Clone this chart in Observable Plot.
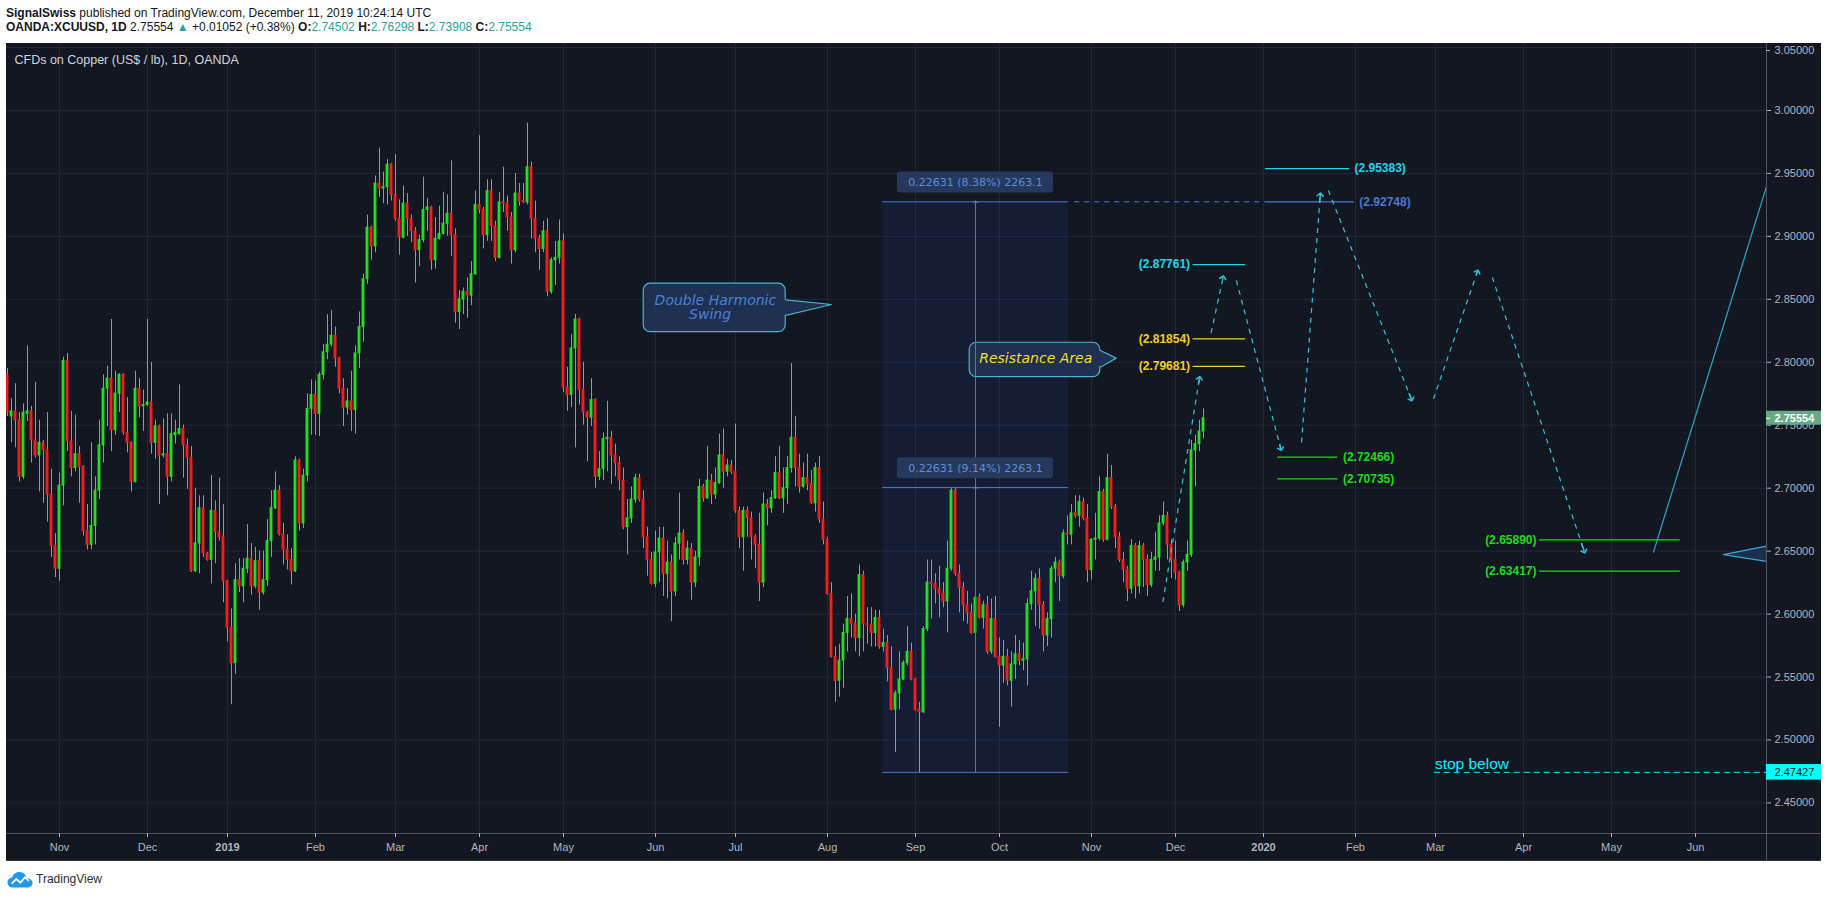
<!DOCTYPE html>
<html><head><meta charset="utf-8">
<script src="https://cdn.jsdelivr.net/npm/d3@7"></script>
<script src="https://cdn.jsdelivr.net/npm/@observablehq/plot@0.6"></script>
<style>
html,body{margin:0;padding:0;background:#fff;}
body{width:1828px;height:898px;overflow:hidden;position:relative;font-family:"Liberation Sans",Arial,sans-serif;}
#hdr{position:absolute;left:6px;top:6px;line-height:14px;color:#131722;white-space:nowrap;font-size:12px;}
#hdr .t{color:#26a69a;}
#chart{position:absolute;left:6px;top:43px;width:1815px;height:818px;overflow:hidden;}
#foot{position:absolute;left:7px;top:869px;height:20px;display:flex;align-items:center;gap:3px;font-size:12px;color:#2a2e39;}
</style></head><body>
<div id="hdr"><div id="l1"></div><div id="l2"></div></div>
<div id="chart"></div>
<div id="foot"><svg width="26" height="17" viewBox="0 0 28 18"><path d="M6 17.5C2.5 17.5 0.5 15 0.5 12C0.5 9 2.8 7 5.3 7C6.3 3.5 9.3 0.8 13.2 0.8C17.6 0.8 20.6 3.8 21.2 7.3C24.6 7.3 27.5 9.7 27.5 12.7C27.5 15.3 25.4 17.5 22.8 17.5Z" fill="#2196f3"/><path d="M5 13.5L10 8.5L14.5 12.5L19.5 6.5L23.5 10.5" stroke="#fff" stroke-width="2" fill="none"/></svg><span>TradingView</span></div>
<script>
// ---------- data ----------
const opens = [2.790,2.757,2.761,2.754,2.709,2.759,2.761,2.738,2.726,2.736,
2.730,2.695,2.654,2.636,2.702,2.801,2.737,2.716,2.727,2.717,
2.666,2.655,2.670,2.698,2.734,2.779,2.787,2.746,2.775,2.790,
2.744,2.736,2.705,2.779,2.765,2.766,2.768,2.736,2.749,2.726,
2.727,2.709,2.742,2.743,2.747,2.734,2.724,2.634,2.656,2.684,
2.648,2.643,2.682,2.665,2.661,2.626,2.589,2.561,2.627,2.622,
2.636,2.644,2.622,2.642,2.617,2.627,2.658,2.684,2.698,2.663,
2.651,2.643,2.634,2.722,2.672,2.710,2.763,2.774,2.759,2.790,
2.808,2.814,2.821,2.803,2.779,2.764,2.769,2.762,2.807,2.828,
2.866,2.907,2.892,2.942,2.938,2.939,2.957,2.933,2.914,2.899,
2.926,2.914,2.904,2.889,2.897,2.921,2.923,2.881,2.898,2.902,
2.910,2.918,2.901,2.840,2.850,2.856,2.853,2.870,2.925,2.921,
2.901,2.936,2.908,2.883,2.927,2.926,2.915,2.889,2.934,2.928,
2.927,2.955,2.914,2.898,2.890,2.904,2.856,2.881,2.883,2.896,
2.780,2.774,2.811,2.834,2.778,2.760,2.756,2.770,2.709,2.715,
2.739,2.740,2.726,2.720,2.706,2.669,2.676,2.691,2.708,2.691,
2.661,2.643,2.624,2.649,2.660,2.632,2.641,2.618,2.656,2.664,
2.643,2.652,2.625,2.645,2.701,2.692,2.706,2.695,2.704,2.726,
2.713,2.718,2.713,2.682,2.661,2.682,2.676,2.661,2.655,2.625,
2.687,2.684,2.692,2.712,2.692,2.700,2.716,2.740,2.716,2.701,
2.708,2.703,2.688,2.716,2.675,2.659,2.616,2.566,2.547,2.563,
2.585,2.596,2.592,2.581,2.631,2.592,2.591,2.585,2.597,2.574,
2.577,2.557,2.524,2.537,2.548,2.561,2.570,2.548,2.524,2.522,
2.588,2.625,2.624,2.620,2.616,2.610,2.636,2.698,2.632,2.621,
2.607,2.601,2.585,2.613,2.597,2.607,2.570,2.596,2.566,2.559,
2.566,2.547,2.560,2.568,2.563,2.564,2.608,2.618,2.628,2.607,
2.583,2.596,2.636,2.641,2.630,2.664,2.663,2.680,2.678,2.689,
2.676,2.635,2.659,2.660,2.697,2.659,2.708,2.685,2.661,2.643,
2.635,2.620,2.654,2.622,2.654,2.643,2.623,2.643,2.645,2.672,
2.678,2.655,2.643,2.633,2.607,2.641,2.647,2.730,2.735,2.74502];
const highs = [2.795,2.771,2.783,2.760,2.767,2.813,2.765,2.784,2.754,2.738,
2.760,2.715,2.664,2.712,2.804,2.807,2.761,2.758,2.733,2.718,
2.687,2.736,2.709,2.754,2.790,2.797,2.834,2.793,2.791,2.791,
2.772,2.737,2.793,2.787,2.778,2.834,2.800,2.754,2.750,2.755,
2.759,2.759,2.754,2.782,2.750,2.739,2.733,2.700,2.694,2.694,
2.649,2.710,2.690,2.708,2.687,2.627,2.604,2.640,2.644,2.644,
2.671,2.656,2.653,2.650,2.650,2.675,2.698,2.713,2.702,2.672,
2.663,2.652,2.725,2.723,2.715,2.775,2.786,2.785,2.792,2.814,
2.838,2.841,2.828,2.804,2.787,2.779,2.793,2.813,2.840,2.870,
2.917,2.908,2.948,2.970,2.951,2.961,2.958,2.965,2.929,2.940,
2.934,2.917,2.907,2.901,2.947,2.930,2.924,2.915,2.924,2.935,
2.933,2.960,2.906,2.857,2.859,2.867,2.880,2.936,2.980,2.923,
2.945,2.945,2.912,2.935,2.955,2.932,2.919,2.950,2.942,2.942,
2.990,2.959,2.928,2.901,2.912,2.914,2.883,2.896,2.913,2.902,
2.796,2.822,2.838,2.835,2.800,2.761,2.787,2.771,2.729,2.744,
2.769,2.745,2.735,2.725,2.716,2.691,2.701,2.711,2.711,2.698,
2.669,2.649,2.666,2.669,2.669,2.658,2.647,2.661,2.696,2.667,
2.658,2.656,2.650,2.707,2.703,2.733,2.711,2.716,2.743,2.747,
2.723,2.722,2.751,2.685,2.685,2.685,2.681,2.663,2.680,2.696,
2.691,2.698,2.725,2.733,2.716,2.725,2.799,2.757,2.727,2.720,
2.727,2.714,2.720,2.725,2.689,2.661,2.625,2.574,2.576,2.592,
2.614,2.616,2.600,2.639,2.634,2.605,2.605,2.603,2.603,2.588,
2.583,2.574,2.539,2.570,2.563,2.590,2.577,2.549,2.530,2.590,
2.643,2.643,2.632,2.638,2.625,2.658,2.700,2.700,2.639,2.625,
2.618,2.608,2.618,2.616,2.610,2.614,2.612,2.614,2.581,2.579,
2.572,2.570,2.583,2.579,2.577,2.612,2.634,2.632,2.636,2.610,
2.601,2.638,2.645,2.643,2.667,2.678,2.687,2.694,2.694,2.692,
2.687,2.660,2.680,2.709,2.699,2.727,2.718,2.687,2.665,2.649,
2.638,2.659,2.656,2.658,2.656,2.647,2.649,2.665,2.678,2.689,
2.681,2.659,2.658,2.634,2.643,2.658,2.738,2.742,2.754,2.76298];
const lows = [2.757,2.736,2.732,2.705,2.707,2.753,2.720,2.724,2.697,2.688,
2.673,2.645,2.629,2.626,2.686,2.729,2.709,2.713,2.688,2.662,
2.651,2.651,2.655,2.691,2.720,2.749,2.729,2.742,2.760,2.742,
2.728,2.697,2.704,2.756,2.745,2.765,2.727,2.723,2.687,2.724,
2.694,2.705,2.735,2.742,2.708,2.699,2.633,2.633,2.632,2.645,
2.642,2.624,2.640,2.658,2.609,2.578,2.528,2.552,2.617,2.609,
2.632,2.615,2.620,2.603,2.615,2.622,2.645,2.683,2.662,2.639,
2.635,2.623,2.633,2.666,2.668,2.705,2.742,2.742,2.741,2.786,
2.802,2.812,2.796,2.775,2.749,2.758,2.745,2.743,2.795,2.816,
2.862,2.881,2.887,2.931,2.926,2.925,2.928,2.912,2.885,2.898,
2.900,2.895,2.863,2.876,2.895,2.904,2.873,2.874,2.897,2.901,
2.900,2.884,2.831,2.826,2.838,2.835,2.845,2.869,2.918,2.890,
2.896,2.896,2.880,2.882,2.919,2.904,2.878,2.887,2.924,2.926,
2.925,2.898,2.887,2.873,2.887,2.852,2.854,2.861,2.878,2.776,
2.761,2.764,2.732,2.766,2.750,2.721,2.749,2.700,2.706,2.706,
2.713,2.703,2.709,2.698,2.667,2.647,2.672,2.688,2.689,2.652,
2.630,2.623,2.621,2.625,2.614,2.612,2.594,2.614,2.643,2.639,
2.639,2.611,2.621,2.638,2.689,2.691,2.687,2.691,2.703,2.700,
2.709,2.711,2.680,2.652,2.634,2.661,2.643,2.636,2.610,2.621,
2.670,2.680,2.691,2.691,2.680,2.687,2.712,2.701,2.696,2.700,
2.698,2.687,2.681,2.672,2.655,2.615,2.565,2.530,2.534,2.541,
2.570,2.581,2.570,2.566,2.570,2.576,2.574,2.574,2.572,2.570,
2.546,2.523,2.490,2.524,2.547,2.559,2.547,2.523,2.474,2.521,
2.586,2.596,2.608,2.597,2.605,2.585,2.634,2.630,2.601,2.594,
2.592,2.584,2.568,2.596,2.588,2.568,2.568,2.565,2.510,2.545,
2.543,2.526,2.548,2.559,2.555,2.543,2.603,2.590,2.588,2.570,
2.574,2.581,2.625,2.610,2.628,2.655,2.655,2.676,2.669,2.674,
2.625,2.627,2.643,2.658,2.657,2.658,2.683,2.652,2.641,2.625,
2.610,2.616,2.612,2.616,2.621,2.614,2.621,2.634,2.634,2.670,
2.643,2.628,2.627,2.602,2.605,2.634,2.645,2.701,2.729,2.73908];
const closes = [2.760,2.761,2.754,2.709,2.760,2.761,2.738,2.726,2.736,2.730,
2.695,2.654,2.636,2.702,2.801,2.737,2.716,2.727,2.717,2.666,
2.655,2.670,2.698,2.734,2.779,2.787,2.746,2.775,2.790,2.744,
2.736,2.705,2.779,2.765,2.766,2.768,2.736,2.749,2.726,2.727,
2.709,2.743,2.744,2.747,2.734,2.724,2.634,2.656,2.684,2.648,
2.643,2.682,2.665,2.661,2.626,2.589,2.561,2.627,2.622,2.636,
2.644,2.622,2.642,2.617,2.627,2.658,2.684,2.698,2.663,2.651,
2.643,2.634,2.722,2.672,2.710,2.763,2.774,2.759,2.790,2.808,
2.814,2.821,2.803,2.779,2.764,2.769,2.762,2.807,2.828,2.866,
2.907,2.892,2.942,2.938,2.939,2.957,2.933,2.914,2.899,2.926,
2.914,2.904,2.889,2.897,2.921,2.923,2.881,2.898,2.902,2.910,
2.918,2.901,2.840,2.850,2.856,2.853,2.870,2.925,2.921,2.901,
2.936,2.908,2.883,2.927,2.926,2.915,2.889,2.934,2.928,2.927,
2.955,2.914,2.898,2.890,2.904,2.856,2.881,2.883,2.896,2.780,
2.774,2.811,2.834,2.778,2.760,2.756,2.770,2.709,2.715,2.739,
2.740,2.726,2.720,2.706,2.669,2.676,2.691,2.708,2.691,2.661,
2.643,2.624,2.649,2.660,2.632,2.641,2.618,2.656,2.664,2.643,
2.652,2.625,2.645,2.701,2.692,2.706,2.695,2.704,2.726,2.713,
2.718,2.713,2.682,2.661,2.682,2.676,2.661,2.655,2.625,2.687,
2.684,2.692,2.712,2.692,2.700,2.716,2.740,2.716,2.701,2.708,
2.703,2.688,2.716,2.675,2.659,2.616,2.566,2.547,2.563,2.585,
2.596,2.592,2.581,2.631,2.592,2.591,2.585,2.597,2.574,2.577,
2.557,2.524,2.537,2.548,2.561,2.570,2.548,2.524,2.522,2.588,
2.625,2.624,2.620,2.616,2.610,2.636,2.698,2.632,2.621,2.607,
2.601,2.585,2.613,2.597,2.607,2.570,2.596,2.566,2.559,2.566,
2.547,2.560,2.568,2.563,2.564,2.608,2.618,2.628,2.607,2.583,
2.596,2.636,2.641,2.630,2.664,2.663,2.680,2.678,2.689,2.676,
2.635,2.659,2.660,2.697,2.659,2.708,2.685,2.661,2.643,2.635,
2.620,2.654,2.622,2.654,2.643,2.623,2.643,2.645,2.672,2.678,
2.655,2.643,2.633,2.607,2.641,2.647,2.730,2.735,2.74502,2.75554];

// time axis (bar index of first bar of each month) and labels
const monthTickIdx = [14,36,56,78,98,119,140,163,183,206,228,249,272,293,315,338,358,380,402,423];
const monthTickLabels = ["Nov","Dec","2019","Feb","Mar","Apr","May","Jun","Jul","Aug","Sep","Oct","Nov","Dec","2020","Feb","Mar","Apr","May","Jun"];
const priceTicks = [2.45,2.50,2.55,2.60,2.65,2.70,2.75,2.80,2.85,2.90,2.95,3.00,3.05];

// price-range measurement (bar index span, prices)
const measureIdx = [219.8, 243, 266.2];
const measureLevels = [2.47427, 2.70058, 2.92748];
const measureTexts = ["0.22631 (9.14%) 2263.1", "0.22631 (8.38%) 2263.1"];

// horizontal target levels
const levelPrices = [2.95383, 2.92748, 2.87761, 2.81854, 2.79681, 2.72466, 2.70735, 2.65890, 2.63417];
const levelFrom   = [315.5, 315.5, 297.4, 297.4, 297.4, 318.6, 318.6, 384.0, 384.0];
const levelTo     = [336.5, 337.7, 310.5, 310.5, 310.5, 333.6, 333.6, 419.2, 419.2];
const levelKind   = ["cyan","blue","cyan","yellow","yellow","green","green","green","green"];
const levelSide   = ["right","right","left","left","left","right","right","left","left"];

// projected swing path (bar index, price)
const pathFrom = [[289.85,2.6096],[301.9,2.8233],[308.2,2.8650],[324.5,2.7363],[331.2,2.9365],[357.5,2.7709],[372.2,2.8674]];
const pathTo   = [[299.0,2.7875],[304.9,2.8674],[319.35,2.7311],[329.2,2.9333],[352.0,2.7705],[368.5,2.8721],[395.2,2.6497]];
const breakoutLine = [[412.5,2.6492],[440.75,2.9397]];
const flagTip = [429.98, 2.6472], flagTop = 2.6539, flagBottom = 2.6418;

// callouts
const calloutText = [["Double Harmonic","Swing"],["Resistance Area"]];
const calloutBox = [[160.05,195.55,2.8624,2.8239],[241.55,274.2,2.8155,2.7882]];
const calloutTail = [[2.8496,2.8372,206.98,2.8459],[2.8094,2.7961,278.15,2.8033]];
const calloutTextPos = [[[177.98,2.8491],[176.65,2.8380]],[[258.05,2.8030]]];

const stopPrice = 2.47427, stopFrom = 357.7;
const titleText = "CFDs on Copper (US$ / lb), 1D, OANDA";

// ---------- header ----------
const n = closes.length;
const lastC = closes[n-1], prevC = closes[n-2];
const chg = lastC - prevC, pct = chg / prevC * 100;
const f5 = v => v.toFixed(5);
document.getElementById("l1").innerHTML = "<b>SignalSwiss</b> published on TradingView.com, December 11, 2019 10:24:14 UTC";
document.getElementById("l2").innerHTML = `<b>OANDA:XCUUSD, 1D</b> ${f5(lastC)} <span class="t">▲</span> +${f5(chg)} (+${pct.toFixed(2)}%) <b>O:</b><span class="t">${f5(opens[n-1])}</span> <b>H:</b><span class="t">${f5(highs[n-1])}</span> <b>L:</b><span class="t">${f5(lows[n-1])}</span> <b>C:</b><span class="t">${f5(lastC)}</span>`;

// ---------- chart ----------
const W = 1815, H = 818, MR = 55, MB = 28;
const X0 = 0.75, X1 = 440.75, Y0 = 2.4257, Y1 = 3.0532;
const barPx = (W - MR) / (X1 - X0);
const pricePx = (Y1 - Y0) / (H - MB);
const AXR = X1 + MR / barPx;

const candles = opens.map((o, k) => ({i: k + 1, o, h: highs[k], l: lows[k], c: closes[k]}));
const up = candles.filter(d => d.c >= d.o), down = candles.filter(d => d.c < d.o);

const GREEN = "#1fe01f", RED = "#f41c1c", WICK = "#9598a1", GRID = "#232734";
const BLUE = "#4a78cf", CYAN = "#1fd4ef", YELLOW = "#f2cf1d", LGREEN = "#16dd16";
const kindColor = {cyan: CYAN, blue: BLUE, yellow: YELLOW, green: LGREEN};

const levels = levelPrices.map((p, k) => ({p, x1: levelFrom[k], x2: levelTo[k], color: kindColor[levelKind[k]], side: levelSide[k], label: `(${f5(p)})`}));
const segs = pathFrom.map((a, k) => ({x1: a[0], y1: a[1], x2: pathTo[k][0], y2: pathTo[k][1]}));
const heads = segs.map(s => ({x1: s.x2 - (s.x2 - s.x1) * 0.03, y1: s.y2 - (s.y2 - s.y1) * 0.03, x2: s.x2, y2: s.y2}));

const boxes = calloutBox.map(b => ({x1: b[0], x2: b[1], y1: b[2], y2: b[3]}));
const tails = calloutBox.map((b, k) => ({base: b[1], top: calloutTail[k][0], bot: calloutTail[k][1], tx: calloutTail[k][2], ty: calloutTail[k][3]}));
const ctexts = calloutText.flatMap((lines, k) => lines.map((t, j) => ({t, x: calloutTextPos[k][j][0], y: calloutTextPos[k][j][1], k})));

const labelH = 21 * pricePx;
const mLabels = measureTexts.map((t, k) => ({t, x: measureIdx[1], y: measureLevels[k+1] + 0.0153}));
const topTick = priceTicks[priceTicks.length - 1];
const innerTicks = priceTicks.slice(0, -1);

const marks = [
  Plot.gridY({ticks: priceTicks, stroke: GRID, strokeOpacity: 1}),
  Plot.gridX({ticks: monthTickIdx, stroke: GRID, strokeOpacity: 1}),
  // measurement area
  Plot.rect([0], {x1: () => measureIdx[0], x2: () => measureIdx[2], y1: () => measureLevels[0], y2: () => measureLevels[2], fill: "#2962ff", fillOpacity: 0.09}),
  // candles
  Plot.ruleX(candles, {x: "i", y1: "l", y2: "h", stroke: WICK, strokeWidth: 1}),
  Plot.rect(up, {x1: d => d.i - 0.36, x2: d => d.i + 0.36, y1: "o", y2: "c", fill: GREEN, insetTop: -0.5, insetBottom: -0.5}),
  Plot.rect(down, {x1: d => d.i - 0.36, x2: d => d.i + 0.36, y1: "o", y2: "c", fill: RED, insetTop: -0.5, insetBottom: -0.5}),
  // callouts
  Plot.rect(boxes, {x1: "x1", x2: "x2", y1: "y1", y2: "y2", rx: 7, fill: "#1f3050", stroke: "#4bb3cc", strokeWidth: 1.2}),
  ...tails.map(t => Plot.areaY([{x: t.base - 0.45, a: t.top, b: t.bot}, {x: t.tx, a: t.ty, b: t.ty}], {x: "x", y1: "a", y2: "b", fill: "#1f3050"})),
  ...tails.map(t => Plot.line([{x: t.base, y: t.top}, {x: t.tx, y: t.ty}, {x: t.base, y: t.bot}], {x: "x", y: "y", stroke: "#4bb3cc", strokeWidth: 1.2})),
  Plot.text(ctexts.filter(d => d.k === 0), {x: "x", y: "y", text: "t", fill: "#4a80d8", fontSize: 14, fontStyle: "italic", fontFamily: "DejaVu Sans"}),
  Plot.text(ctexts.filter(d => d.k === 1), {x: "x", y: "y", text: "t", fill: "#f5dc22", fontSize: 14, fontStyle: "italic", fontFamily: "DejaVu Sans"}),
  // measurement lines
  Plot.ruleY(measureLevels, {y: d => d, x1: () => measureIdx[0], x2: () => measureIdx[2], stroke: BLUE, strokeWidth: 1}),
  Plot.link([0, 1], {x1: () => measureIdx[1], x2: () => measureIdx[1], y1: k => measureLevels[k], y2: k => measureLevels[k+1], stroke: BLUE, strokeWidth: 1, markerEnd: "arrow"}),
  Plot.rect(mLabels, {x1: d => d.x - 19.5, x2: d => d.x + 19.5, y1: d => d.y - labelH/2, y2: d => d.y + labelH/2, rx: 3, fill: "#26395c"}),
  Plot.text(mLabels, {x: "x", y: "y", text: "t", fill: "#5b8edb", fontSize: 11, fontFamily: "DejaVu Sans"}),
  // dashed extension of the target
  Plot.ruleY([measureLevels[2]], {y: d => d, x1: () => 267.8, x2: () => 315.5, stroke: BLUE, strokeDasharray: "5,5"}),
  // target levels
  Plot.ruleY(levels, {y: "p", x1: "x1", x2: "x2", stroke: "color", strokeWidth: 1.2}),
  Plot.text(levels.filter(d => d.side === "right"), {x: d => d.x2, y: "p", text: "label", fill: "color", dx: 5, textAnchor: "start", fontSize: 12, fontWeight: "bold"}),
  Plot.text(levels.filter(d => d.side === "left"), {x: d => d.x1, y: "p", text: "label", fill: "color", dx: -3, textAnchor: "end", fontSize: 12, fontWeight: "bold"}),
  // projected path
  Plot.link(segs, {x1: "x1", y1: "y1", x2: "x2", y2: "y2", stroke: "#31c3dc", strokeWidth: 1.2, strokeDasharray: "5,5"}),
  Plot.link(heads, {x1: "x1", y1: "y1", x2: "x2", y2: "y2", stroke: "#31c3dc", strokeWidth: 1.5, markerEnd: "arrow"}),
  Plot.line(breakoutLine, {x: d => d[0], y: d => d[1], stroke: "#28a9c4", strokeWidth: 1.2}),
  Plot.areaY([{x: flagTip[0], a: flagTip[1], b: flagTip[1]}, {x: X1, a: flagTop, b: flagBottom}], {x: "x", y1: "a", y2: "b", fill: "#1c2e4e"}),
  Plot.line([[X1, flagTop], flagTip, [X1, flagBottom]], {x: d => d[0], y: d => d[1], stroke: "#3ba7d4", strokeWidth: 1.2}),
  // stop
  Plot.ruleY([stopPrice], {y: d => d, x1: () => stopFrom, x2: () => X1, stroke: "#00f0ff", strokeDasharray: "6,4"}),
  Plot.text(["stop below"], {x: () => stopFrom + 0.15, y: () => stopPrice, dy: -8, text: d => d, textAnchor: "start", fill: "#00f0ff", fontSize: 15.5}),
  // title
  Plot.text([titleText], {frameAnchor: "top-left", dx: 8, dy: 16, lineAnchor: "middle", text: d => d, fill: "#d1d4dc", fontSize: 12.5, textAnchor: "start"}),
  // frame lines
  Plot.ruleY([Y0], {y: d => d, x1: () => X0, x2: () => AXR, stroke: "#50535e"}),
  Plot.ruleY([Y1 - (H - 0.5) * pricePx], {y: d => d, x1: () => X0, x2: () => AXR, stroke: "#50535e"}),
  Plot.ruleX([X1], {x: d => d, y1: () => Y1, y2: () => Y1 - H * pricePx, stroke: "#50535e"}),
  // axes
  Plot.axisY({ticks: innerTicks, anchor: "right", tickFormat: d => d.toFixed(5), tickSize: 4, tickPadding: 4, fontSize: 11, color: "#b2b5be", label: null}),
  Plot.ruleY([topTick], {y: d => d, x1: () => X1, x2: () => X1 + 4 / barPx, dy: 3, stroke: "#b2b5be"}),
  Plot.text([topTick], {x: () => X1, y: d => d, dx: 8, dy: 3, text: d => d.toFixed(5), textAnchor: "start", fill: "#b2b5be", fontSize: 11}),
  Plot.axisX({ticks: monthTickIdx.filter((d, k) => !/^\d/.test(monthTickLabels[k])), tickFormat: d => monthTickLabels[monthTickIdx.indexOf(d)], anchor: "bottom", tickSize: 4, tickPadding: 6, fontSize: 11, color: "#b2b5be", label: null}),
  Plot.axisX({ticks: monthTickIdx.filter((d, k) => /^\d/.test(monthTickLabels[k])), tickFormat: d => monthTickLabels[monthTickIdx.indexOf(d)], anchor: "bottom", tickSize: 4, tickPadding: 6, fontSize: 11, fontWeight: "bold", color: "#b2b5be", label: null}),
  // price labels on the axis
  Plot.rect([lastC], {x1: () => X1, x2: () => AXR, y1: d => d - 7 * pricePx, y2: d => d + 7 * pricePx, fill: "#68a983"}),
  Plot.ruleY([lastC], {y: d => d, x1: () => X1, x2: () => X1 + 4 / barPx, stroke: "#fff"}),
  Plot.text([lastC], {x: () => X1, y: d => d, dx: 8, text: d => f5(d), textAnchor: "start", fill: "#fff", fontWeight: "bold", fontSize: 11}),
  Plot.rect([stopPrice], {x1: () => X1, x2: () => AXR, y1: d => d - 7.8 * pricePx, y2: d => d + 7.8 * pricePx, fill: "#00ffff"}),
  Plot.text([stopPrice], {x: () => X1, y: d => d, dx: 8, text: d => f5(d), textAnchor: "start", fill: "#131722", fontSize: 11})
];

const chart = Plot.plot({
  width: W, height: H,
  marginLeft: 0, marginRight: MR, marginTop: 0, marginBottom: MB,
  x: {type: "linear", domain: [X0, X1], axis: null},
  y: {type: "linear", domain: [Y0, Y1], axis: null},
  style: {background: "#131722", color: "#b2b5be", fontFamily: "'Liberation Sans', Arial, sans-serif", overflow: "hidden"},
  marks
});
document.getElementById("chart").append(chart);
</script></body></html>
